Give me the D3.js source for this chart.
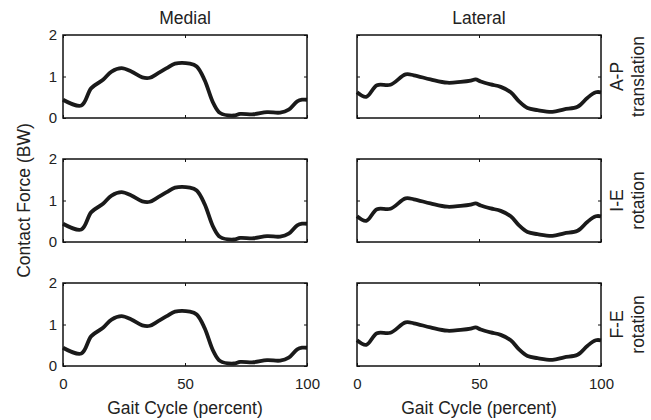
<!DOCTYPE html>
<html>
<head>
<meta charset="utf-8">
<script src="https://cdn.jsdelivr.net/npm/d3@7"></script>
<style>
  body { margin: 0; background: #fff; }
  text { font-family: "Liberation Sans", Arial, sans-serif; fill: #222; }
</style>
</head>
<body>
<div id="chart"></div>
<script>
// gait cycle samples (percent) for each curve
var medialX = [0, 7.5, 11.6, 16.4, 19.9, 24, 28, 32.5, 35.6, 39, 42.5, 45.9, 52, 54.8, 58, 61.6, 64.4, 70, 72.6, 78, 83.6, 89, 92.5, 96, 98, 100]
var medialY = [0.44, 0.30, 0.72, 0.92, 1.12, 1.2, 1.12, 0.98, 0.97, 1.08, 1.2, 1.31, 1.31, 1.24, 0.92, 0.36, 0.12, 0.06, 0.1, 0.09, 0.14, 0.13, 0.2, 0.4, 0.44, 0.44]
var lateralX = [0, 3.8, 8.2, 13.7, 19.9, 23.3, 30.1, 37, 42.5, 46.6, 48.6, 50.7, 54.8, 58.9, 63, 66.4, 69.9, 74, 80.1, 84.9, 90.4, 94.5, 97.9, 100]
var lateralY = [0.62, 0.51, 0.79, 0.8, 1.05, 1.03, 0.93, 0.85, 0.87, 0.9, 0.93, 0.88, 0.81, 0.75, 0.62, 0.40, 0.24, 0.19, 0.15, 0.21, 0.27, 0.49, 0.62, 0.62]

var columns = ['Medial', 'Lateral']
var rowLabels = [['A-P', 'translation'], ['I-E', 'rotation'], ['F-E', 'rotation']]
var xTicks = [0, 50, 100]
var yTicks = [0, 1, 2]

var W = 651, H = 420
var colLeft = [63, 357], panelW = 244
var rowTop = [35, 159, 283], panelH = 83
var tickFs = '15px', labelFs = '17.5px'

var svg = d3.select('#chart').append('svg')
    .attr('width', W)
    .attr('height', H)

var x = d3.scaleLinear().domain([0, 100]).range([0, panelW])
var y = d3.scaleLinear().domain([0, 2]).range([panelH, 0])

var series = [
    medialX.map((v, i) => [v, medialY[i]]),
    lateralX.map((v, i) => [v, lateralY[i]])
]

var line = d3.line()
    .x(d => x(d[0]))
    .y(d => y(d[1]))
    .curve(d3.curveCatmullRom.alpha(0.5))

rowTop.forEach(function(top, r) {
    columns.forEach(function(col, c) {
        var g = svg.append('g')
            .attr('transform', 'translate(' + colLeft[c] + ',' + top + ')')

        // inward ticks, matlab style
        var bottomAxis = d3.axisBottom(x).tickValues(xTicks).tickSizeInner(-3).tickSizeOuter(0).tickFormat(d3.format('d'))
        var topAxis = d3.axisTop(x).tickValues(xTicks).tickSizeInner(-3).tickSizeOuter(0).tickFormat('')
        var leftAxis = d3.axisLeft(y).tickValues(yTicks).tickSizeInner(-3).tickSizeOuter(0).tickFormat(d3.format('d'))
        var rightAxis = d3.axisRight(y).tickValues(yTicks).tickSizeInner(-3).tickSizeOuter(0).tickFormat('')

        if (r < 2) bottomAxis.tickFormat('')
        if (c == 1) leftAxis.tickFormat('')

        var ax = [
            g.append('g').attr('transform', 'translate(0,' + panelH + ')').call(bottomAxis),
            g.append('g').call(topAxis),
            g.append('g').call(leftAxis),
            g.append('g').attr('transform', 'translate(' + panelW + ',0)').call(rightAxis)
        ]
        ax.forEach(function(a) {
            a.attr('font-size', null).attr('font-family', null)
            a.select('.domain').remove()
            a.selectAll('line').attr('stroke', '#111').attr('stroke-width', 1)
            a.selectAll('text')
                .style('font-size', tickFs)
                .attr('fill', '#222')
        })
        ax[0].selectAll('text').attr('dy', null).attr('y', 23)
        ax[2].selectAll('text').attr('x', -6)

        g.append('path')
            .datum(series[c])
            .attr('fill', 'none')
            .attr('stroke', '#1a1a1a')
            .attr('stroke-width', 3.8)
            .attr('stroke-linejoin', 'round')
            .attr('d', line)

        g.append('rect')
            .attr('width', panelW)
            .attr('height', panelH)
            .attr('fill', 'none')
            .attr('stroke', '#111')
            .attr('stroke-width', 1.5)

        if (r == 0) {
            g.append('text')
                .attr('x', panelW / 2)
                .attr('y', -11)
                .attr('text-anchor', 'middle')
                .style('font-size', labelFs)
                .text(col)
        }
        if (r == 2) {
            g.append('text')
                .attr('x', panelW / 2)
                .attr('y', panelH + 48)
                .attr('text-anchor', 'middle')
                .style('font-size', labelFs)
                .text('Gait Cycle (percent)')
        }
        if (c == 1) {
            var lab = g.append('text')
                .attr('transform', 'translate(' + (panelW + 22) + ',' + (panelH / 2) + ') rotate(-90)')
                .attr('text-anchor', 'middle')
                .style('font-size', labelFs)
            lab.append('tspan').attr('x', 0).attr('dy', 0).text(rowLabels[r][0])
            lab.append('tspan').attr('x', 0).attr('dy', 21).text(rowLabels[r][1])
        }
    })
})

svg.append('text')
    .attr('transform', 'translate(30,' + ((rowTop[0] + rowTop[2] + panelH) / 2) + ') rotate(-90)')
    .attr('text-anchor', 'middle')
    .style('font-size', labelFs)
    .text('Contact Force (BW)')
</script>
</body>
</html>
